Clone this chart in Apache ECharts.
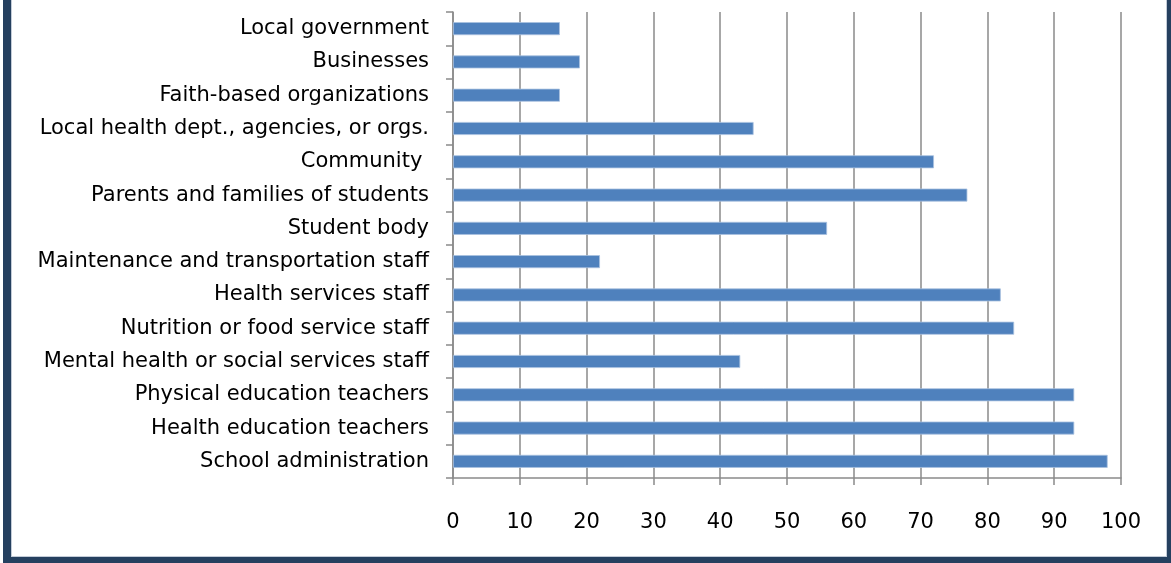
<!DOCTYPE html>
<html>
<head>
<meta charset="utf-8">
<script src="https://cdn.jsdelivr.net/npm/echarts@6/dist/echarts.min.js"></script>
<style>
  html, body { margin: 0; padding: 0; background: #ffffff; }
  #wrap { position: relative; width: 1171px; height: 563px; overflow: hidden; background: #fff; }
  #frame {
    position: absolute; left: 3px; top: -10px; right: 0; bottom: 0;
    border-left: 8px solid #25405f; border-right: 4px solid #25405f; border-bottom: 6px solid #25405f;
  }
  #frame-inner { position: absolute; left: 0; top: 0; right: 0; bottom: 0; border: 1px solid #c3ccd8; border-top: none; }
  #chart { position: absolute; left: 0; top: 0; width: 1171px; height: 563px; }
</style>
</head>
<body>
<div id="wrap">
  <div id="frame"><div id="frame-inner"></div></div>
  <div id="chart"></div>
</div>
<script>
// Groups involved, listed top to bottom
const categories = [
  'Local government',
  'Businesses',
  'Faith-based organizations',
  'Local health dept., agencies, or orgs.',
  'Community ',
  'Parents and families of students',
  'Student body',
  'Maintenance and transportation staff',
  'Health services staff',
  'Nutrition or food service staff',
  'Mental health or social services staff',
  'Physical education teachers',
  'Health education teachers',
  'School administration'
];
const values = [16, 19, 16, 45, 72, 77, 56, 22, 82, 84, 43, 93, 93, 98];
const xTicks = [0, 10, 20, 30, 40, 50, 60, 70, 80, 90, 100];

const font = '"DejaVu Sans", sans-serif';
const gridColor = '#8a8a8a';

const chart = echarts.init(document.getElementById('chart'), null, { renderer: 'canvas' });
chart.setOption({
  animation: false,
  backgroundColor: 'transparent',
  grid: { left: 453, right: 50, top: 12, bottom: 85, containLabel: false },
  xAxis: {
    type: 'value',
    min: xTicks[0],
    max: xTicks[xTicks.length - 1],
    interval: 10,
    axisLine: { show: true, lineStyle: { color: gridColor, width: 1.5 } },
    axisTick: { show: true, length: 7, lineStyle: { color: gridColor, width: 1.5 } },
    splitLine: { show: true, lineStyle: { color: gridColor, width: 1.5 } },
    axisLabel: { color: '#000', fontFamily: font, fontSize: 21, margin: 34 }
  },
  yAxis: {
    type: 'category',
    inverse: true,
    data: categories,
    axisLine: { show: true, lineStyle: { color: gridColor, width: 1.5 } },
    axisTick: { show: true, length: 7, lineStyle: { color: gridColor, width: 1.5 } },
    axisLabel: { color: '#000', fontFamily: font, fontSize: 21, margin: 24 }
  },
  series: [{
    type: 'bar',
    data: values,
    barWidth: 13,
    itemStyle: { color: '#4f81bd', borderColor: '#a9c1e0', borderWidth: 0.8 }
  }]
});
</script>
</body>
</html>
